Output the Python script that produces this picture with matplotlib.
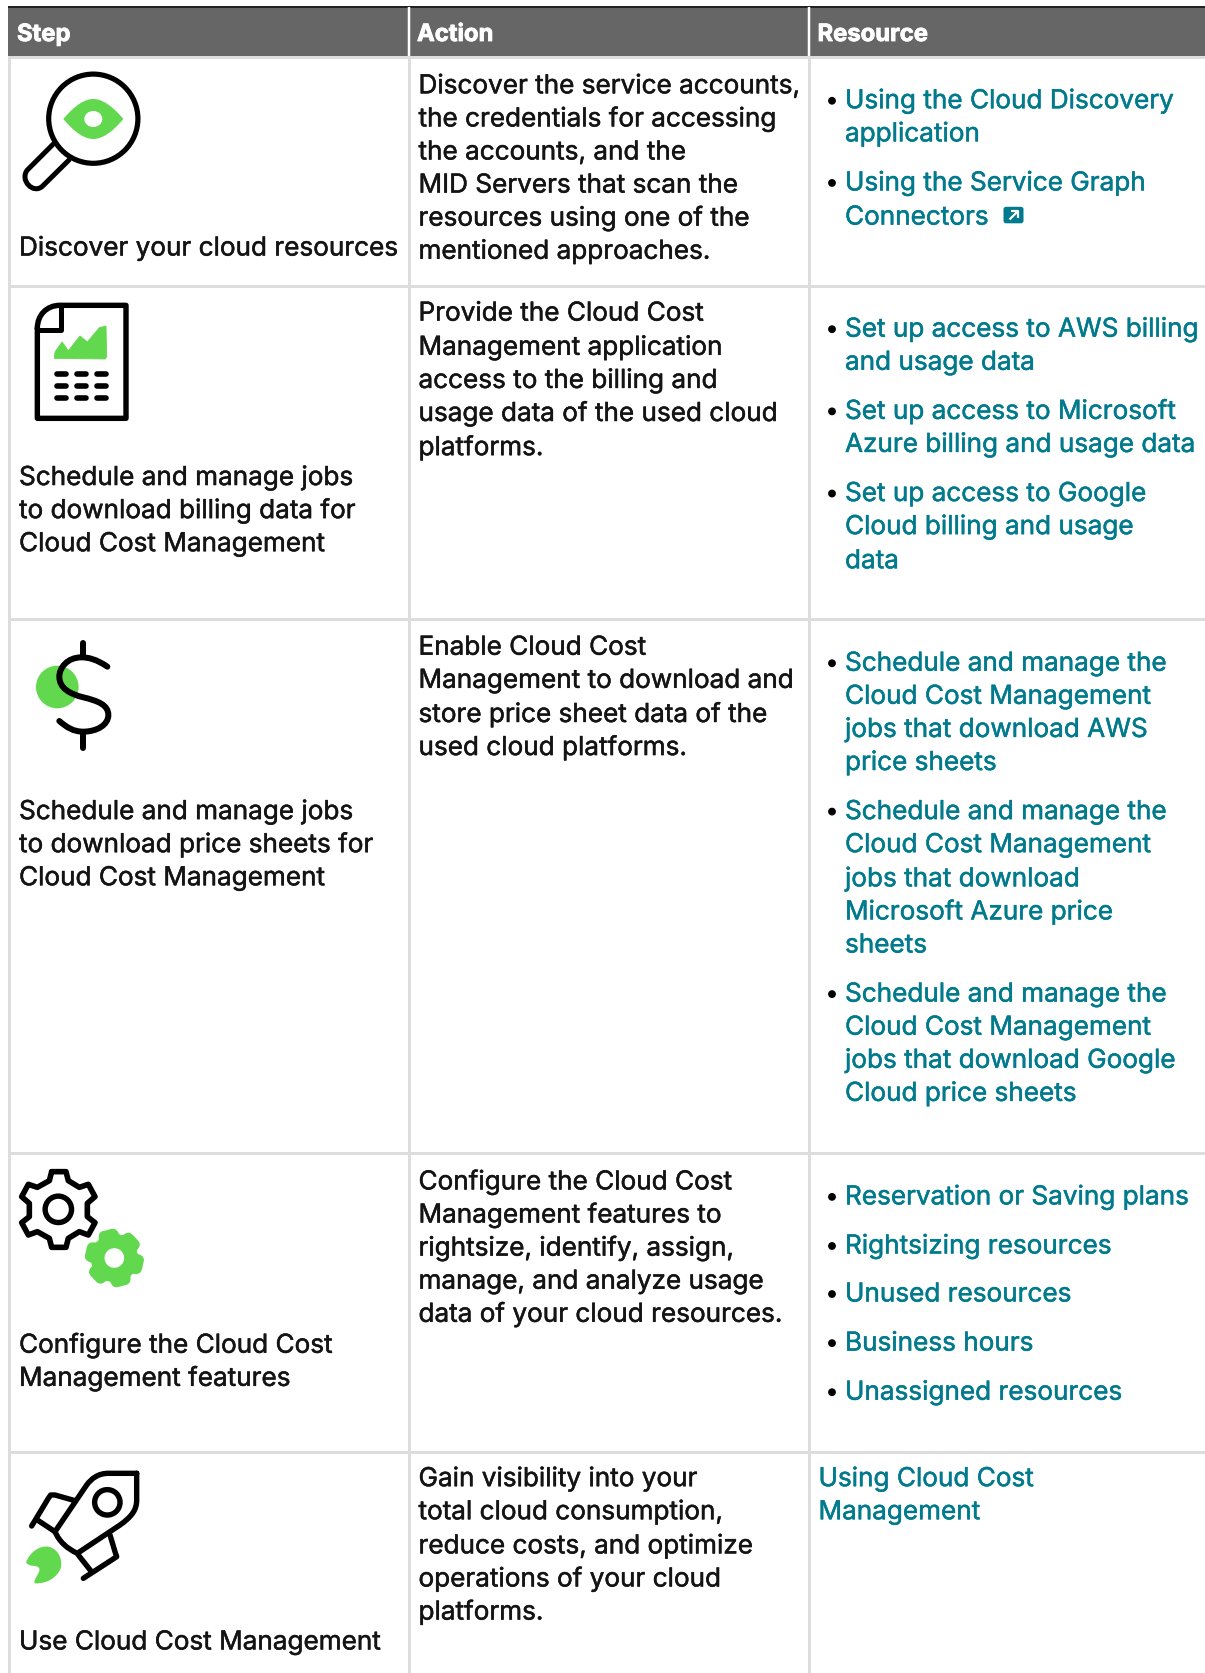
import matplotlib
matplotlib.use("Agg")
import matplotlib.pyplot as plt
import matplotlib.patheffects as pe
from matplotlib.patches import Circle, Ellipse, PathPatch, Rectangle, FancyBboxPatch, Polygon
from matplotlib.path import Path
from matplotlib.textpath import TextPath
from matplotlib.font_manager import FontProperties
import numpy as np

W, H = 1205, 1673
FONT = "Inter"
INK = "#141414"
LINK = "#007a8c"
GREEN = "#62d84f"
GREY = "#666666"
RULE = "#dddddd"

headers = ["Step", "Action", "Resource"]
step_text = [
    ["Discover your cloud resources"],
    ["Schedule and manage jobs", "to download billing data for", "Cloud Cost Management"],
    ["Schedule and manage jobs", "to download price sheets for", "Cloud Cost Management"],
    ["Configure the Cloud Cost", "Management features"],
    ["Use Cloud Cost Management"],
]
step_y = [[231], [446, 477, 508], [759, 790, 821], [1259, 1290], [1537]]
action_text = [
    ["Discover the service accounts,", "the credentials for accessing", "the accounts, and the",
     "MID Servers that scan the", "resources using one of the", "mentioned approaches."],
    ["Provide the Cloud Cost", "Management application", "access to the billing and",
     "usage data of the used cloud", "platforms."],
    ["Enable Cloud Cost", "Management to download and", "store price sheet data of the",
     "used cloud platforms."],
    ["Configure the Cloud Cost", "Management features to", "rightsize, identify, assign,",
     "manage, and analyze usage", "data of your cloud resources."],
    ["Gain visibility into your", "total cloud consumption,", "reduce costs, and optimize",
     "operations of your cloud", "platforms."],
]
action_y = [[79, 110, 141, 172, 203, 234], [292, 324, 355, 386, 418], [605, 636, 668, 699],
            [1106, 1137, 1168, 1199, 1230], [1384, 1415, 1447, 1478, 1509]]
resource_text = [
    [["Using the Cloud Discovery", "application"], ["Using the Service Graph", "Connectors"]],
    [["Set up access to AWS billing", "and usage data"],
     ["Set up access to Microsoft", "Azure billing and usage data"],
     ["Set up access to Google", "Cloud billing and usage", "data"]],
    [["Schedule and manage the", "Cloud Cost Management", "jobs that download AWS", "price sheets"],
     ["Schedule and manage the", "Cloud Cost Management", "jobs that download", "Microsoft Azure price", "sheets"],
     ["Schedule and manage the", "Cloud Cost Management", "jobs that download Google", "Cloud price sheets"]],
    [["Reservation or Saving plans"], ["Rightsizing resources"], ["Unused resources"],
     ["Business hours"], ["Unassigned resources"]],
]
resource_y = [
    [[93, 124], [170, 202]],
    [[307, 338], [384, 415], [461, 492, 524]],
    [[620, 651, 682, 713], [759, 790, 822, 853, 884], [930, 961, 992, 1023]],
    [[1120], [1166], [1211], [1257], [1303]],
]
plain_resource = ["Using Cloud Cost", "Management"]
plain_resource_y = [1384, 1415]

SCALE = 1205 / 1129
def fit(s, px, **kw):
    fp = FontProperties(family=FONT, **kw)
    w = TextPath((0, 0), s, size=100, prop=fp).get_extents().width
    return px / (w / 100) * 0.72

BODY = fit("Discover your cloud resources", 375.5)
HEAD = fit("Resource", 108, weight="bold")

fig = plt.figure(figsize=(W / 100, H / 100), dpi=100, facecolor="white")
ax = fig.add_axes([0, 0, 1, 1])
ax.set_xlim(0, W)
ax.set_ylim(H, 0)
ax.axis("off")
LW = 0.72


def line(xs, ys, c=RULE, w=3, cap="butt", z=2):
    ax.plot(xs, ys, color=c, lw=w * LW, solid_capstyle=cap, solid_joinstyle="round", zorder=z)


def stroke(verts, codes=None, w=5.4, c="black", z=5, face="none"):
    v = [(x / 3, y / 3) for x, y in verts]
    if codes is None:
        codes = [Path.MOVETO] + [Path.LINETO] * (len(v) - 1)
    ax.add_patch(PathPatch(Path(v, codes), fc=face, ec=c, lw=w * LW, joinstyle="round",
                           capstyle="round", zorder=z))


def off(pts, dy):
    return [(x, y + dy * 3) for x, y in pts]


M, L_, C, Z = Path.MOVETO, Path.LINETO, Path.CURVE4, Path.CLOSEPOLY

# table frame
ax.add_patch(Rectangle((8, 7), W - 8, 49, fc=GREY, ec="none", zorder=1))
line([8, W], [6.8, 6.8], c="#222222", w=2, z=3)
line([9.3, 9.3], [56, H])
line([409, 409], [56, H])
line([809, 809], [56, H])
line([409, 409], [7, 56], c="white", w=2.5, z=3)
line([809, 809], [7, 56], c="white", w=2.5, z=3)
for y in [57, 286, 619, 1153, 1451.5]:
    line([8, W], [y, y])

for s, x in zip(headers, [17, 417, 817.5]):
    ax.text(x, 41, s, color="white", fontsize=HEAD, family=FONT, weight="bold", va="baseline", zorder=6,
            path_effects=[pe.withStroke(linewidth=0.6, foreground="white")])


def put(s, x, y_small, color):
    ax.text(x, y_small * SCALE + 9, s, color=color, fontsize=BODY, family=FONT, va="baseline", zorder=6,
            path_effects=[pe.withStroke(linewidth=0.35, foreground=color)])


for lines, ys in zip(step_text, step_y):
    for s, y in zip(lines, ys):
        put(s, 19, y, INK)
for lines, ys in zip(action_text, action_y):
    for s, y in zip(lines, ys):
        put(s, 418.5, y, INK)
for groups, gys in zip(resource_text, resource_y):
    for lines, ys in zip(groups, gys):
        ax.add_patch(Circle((832, ys[0] * SCALE + 1.5), 3.9, fc="black", ec="none", zorder=6))
        for s, y in zip(lines, ys):
            put(s, 845, y, LINK)
for s, y in zip(plain_resource, plain_resource_y):
    put(s, 818.5, y, LINK)

# external-link badge
ax.add_patch(FancyBboxPatch((1003.5, 206.8), 20, 16.5, boxstyle="round,pad=0,rounding_size=2.5",
                            fc=LINK, ec="none", zorder=6))
line([1009.5, 1017.5], [219.5, 211.5], c="white", w=2.2, z=7)
line([1011, 1018, 1018], [211, 211, 218], c="white", w=2.2, z=7)

# magnifier
ax.add_patch(Circle((93.3, 118.7), 44.6, fc="white", ec="black", lw=5.2 * LW, zorder=5))
stroke([(160, 432), (82, 510), (58, 540), (100, 585), (128, 558), (207, 480)],
       [M, L_, C, C, C, L_], w=5)
stroke([(190, 357), (225, 315), (255, 297), (280, 297), (305, 297), (335, 315), (370, 357),
        (335, 399), (305, 417), (280, 417), (255, 417), (225, 399), (190, 357), (190, 357)],
       [M, C, C, C, C, C, C, C, C, C, C, C, C, Z], w=0, c=GREEN, face=GREEN, z=6)
ax.add_patch(Ellipse((93.3, 119), 18, 16, fc="white", ec="none", zorder=7))

# document
stroke([(112, 985), (112, 945), (140, 916), (180, 916), (378, 916), (378, 1255), (112, 1255), (112, 985)],
       [M, C, C, C, L_, L_, L_, L_], w=5.4, z=5)
stroke([(184, 916), (184, 990), (112, 990)], w=5)
ax.add_patch(Polygon([(x / 3, y / 3) for x, y in
                      [(163, 1075), (165, 1056), (186, 1026), (205, 1052), (240, 1008), (262, 1026),
                       (298, 983), (318, 978), (320, 1070), (315, 1077)]],
                     fc=GREEN, ec=GREEN, lw=0.6, joinstyle="round", zorder=6))
for y in [1121, 1157, 1193]:
    for x0, x1 in [(170, 198), (231, 258), (291, 318)]:
        line([x0 / 3, x1 / 3], [y / 3, y / 3], c="black", w=5.6, cap="round", z=6)

# dollar
ax.add_patch(Circle((57.3, 687), 21.3, fc=GREEN, ec="none", zorder=4))
stroke(off([(322, 140), (290, 118), (265, 112), (245, 112), (200, 112), (178, 145), (178, 170),
            (178, 205), (210, 222), (250, 232), (295, 243), (325, 255), (325, 285), (325, 315),
            (290, 335), (250, 335), (220, 335), (200, 322), (178, 303)], 620),
       [M] + [C] * 18, w=6)
stroke(off([(250, 68), (250, 110)], 620), w=6)
stroke(off([(250, 340), (250, 385)], 620), w=6)

# gears
gear = [(155, 65), (198, 65), (205, 92), (238, 112), (265, 103), (285, 140), (262, 160), (262, 200),
        (285, 218), (265, 255), (238, 245), (205, 265), (198, 292), (155, 292), (148, 265), (112, 245),
        (85, 255), (65, 218), (88, 200), (88, 160), (65, 140), (85, 103), (112, 112), (148, 92)]
stroke(off(gear + gear[:1], 1150), w=5.6)
ax.add_patch(Circle((175 / 3, 1150 + 178 / 3), 13.2, fc="none", ec="black", lw=5.4 * LW, zorder=5))
g = np.array(gear, float) - [175, 178]
t = np.radians(-15)
R = np.array([[np.cos(t), -np.sin(t)], [np.sin(t), np.cos(t)]])
g2 = (g @ R.T) * 0.62 + [343, 324]
stroke(off([tuple(p) for p in g2] + [tuple(g2[0])], 1150), w=11, c=GREEN, face=GREEN, z=5)
ax.add_patch(Circle((343 / 3, 1150 + 324 / 3), 9.8, fc="white", ec="none", zorder=6))

# rocket
stroke(off([(410, 100), (325, 100), (295, 100), (275, 115), (260, 135), (165, 275), (178, 305), (200, 325),
            (232, 340), (360, 255), (395, 230), (410, 210), (410, 180), (410, 100)], 1440),
       [M, L_, C, C, C, L_, C, C, C, L_, C, C, C, L_], w=5.4)
stroke(off([(95, 258), (145, 175), (152, 165), (165, 165), (225, 182)], 1440), w=5.4)
stroke(off([(112, 240), (165, 275)], 1440), w=5.4)
stroke(off([(250, 415), (335, 360), (350, 350), (345, 335), (330, 285)], 1440), w=5.4)
stroke(off([(235, 345), (272, 392)], 1440), w=5.4)
ax.add_patch(Circle((322 / 3, 1440 + 187 / 3), 12.7, fc="none", ec="black", lw=5.4 * LW, zorder=5))
stroke(off([(78, 367), (90, 335), (120, 316), (145, 320), (180, 328), (188, 365), (182, 385),
            (172, 412), (140, 432), (105, 430), (96, 420), (125, 397), (117, 384), (108, 372),
            (90, 384), (78, 367), (78, 367)], 1440),
       [M, C, C, C, C, C, C, C, C, C, C, C, C, C, C, C, Z], w=0, c=GREEN, face=GREEN, z=5)

fig.savefig("out.png", dpi=100, facecolor="white")
